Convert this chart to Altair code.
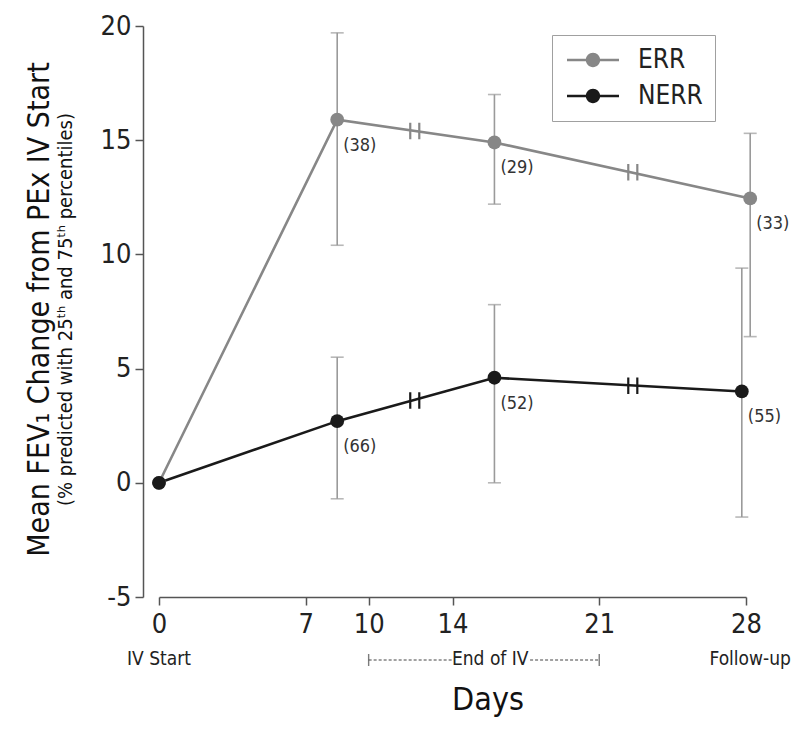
import altair as alt
import pandas as pd

# ---- data ----
series = ["ERR", "NERR"]
days_err = [0, 8.5, 16.0, 28.2]
days_nerr = [0, 8.5, 16.0, 27.8]
mean_err = [0, 15.9, 14.9, 12.45]
mean_nerr = [0, 2.7, 4.6, 4.0]
p25_err = [None, 10.4, 12.2, 6.4]
p75_err = [None, 19.7, 17.0, 15.3]
p25_nerr = [None, -0.7, 0.0, -1.5]
p75_nerr = [None, 5.5, 7.8, 9.4]
n_err = ["", "(38)", "(29)", "(33)"]
n_nerr = ["", "(66)", "(52)", "(55)"]

break_days = [12.2, 22.6]
break_err = [15.4, 13.6]
break_nerr = [3.6, 4.25]

x_ticks = [0, 7, 10, 14, 21, 28]
y_ticks = [-5, 0, 5, 10, 15, 20]
phase_days = [0, 15.8, 28.2]
phase_labels = ["IV Start", "End of IV", "Follow-up"]
bracket_from = [10, 17.7]
bracket_to = [14.0, 21]
bracket_caps = [10, 21]

FONT = "Liberation Sans Narrow, Arial Narrow, DejaVu Sans Condensed, sans-serif"
W, H = 587, 571

rows = []
for d, m, lo, hi, n in zip(days_err, mean_err, p25_err, p75_err, n_err):
    rows.append(dict(series="ERR", day=d, mean=m, lo=lo, hi=hi, n=n))
for d, m, lo, hi, n in zip(days_nerr, mean_nerr, p25_nerr, p75_nerr, n_nerr):
    rows.append(dict(series="NERR", day=d, mean=m, lo=lo, hi=hi, n=n))
df = pd.DataFrame(rows)
err_df = df.dropna(subset=["lo"])

brk = pd.DataFrame(
    [dict(series="ERR", day=d, v=v) for d, v in zip(break_days, break_err)]
    + [dict(series="NERR", day=d, v=v) for d, v in zip(break_days, break_nerr)]
)

xs = alt.Scale(domain=[0, 28], nice=False)
ys = alt.Scale(domain=[-5, 20], nice=False)
cs = alt.Scale(domain=series, range=["#878787", "#1a1a1a"])

legend_shape = ("M-2,-0.1H2V0.1H-2Z"
                "M-0.55,0A0.55,0.55 0 1,1 0.55,0A0.55,0.55 0 1,1 -0.55,0Z")

legend = alt.Legend(
    title=None, orient="none", legendX=393, legendY=9,
    symbolType=legend_shape, symbolSize=676, symbolStrokeWidth=0,
    symbolOpacity=1,
    symbolOffset=16, labelOffset=32, labelFontSize=26, labelFont=FONT,
    labelColor="#222", rowPadding=10, padding=12,
    strokeColor="#a0a0a0", fillColor="white")
color_enc = alt.Color("series:N", scale=cs, legend=legend)

x_enc = alt.X("day:Q", scale=xs, title=None,
              axis=alt.Axis(values=x_ticks, labelExpr="datum.value + ''",
                            grid=False, labelFlush=False, labelPadding=6))
y_enc = alt.Y("mean:Q", scale=ys, title=None,
              axis=alt.Axis(values=y_ticks, labelExpr="datum.value + ''",
                            grid=False, offset=16, labelFlush=False,
                            labelPadding=4))

base = alt.Chart(df)

err_rule = alt.Chart(err_df).mark_rule(color="#9a9a9a", strokeWidth=1.6).encode(
    x=alt.X("day:Q", scale=xs), y=alt.Y("lo:Q", scale=ys), y2="hi:Q")
cap_lo = alt.Chart(err_df).mark_tick(color="#9a9a9a", orient="horizontal",
                                     size=13, thickness=1.6).encode(
    x=alt.X("day:Q", scale=xs), y=alt.Y("lo:Q", scale=ys))
cap_hi = alt.Chart(err_df).mark_tick(color="#9a9a9a", orient="horizontal",
                                     size=13, thickness=1.6).encode(
    x=alt.X("day:Q", scale=xs), y=alt.Y("hi:Q", scale=ys))

lines = base.mark_line(strokeWidth=2.6).encode(
    x=x_enc, y=y_enc, color=color_enc)

breaks = alt.Chart(brk).mark_point(
    shape="M-0.55,-1V1M0.55,-1V1", size=270, filled=False,
    strokeWidth=2.2, opacity=1).encode(
    x=alt.X("day:Q", scale=xs), y=alt.Y("v:Q", scale=ys), color=color_enc)

points = base.mark_point(filled=True, size=190, opacity=1).encode(
    x=alt.X("day:Q", scale=xs), y=alt.Y("mean:Q", scale=ys), color=color_enc)

counts = base.mark_text(align="left", baseline="middle", dx=6, dy=26,
                        fontSize=18, font=FONT, color="#333").encode(
    x=alt.X("day:Q", scale=xs), y=alt.Y("mean:Q", scale=ys), text="n:N")

one = pd.DataFrame({"t": [0]})
ytitle = alt.Chart(one).mark_text(
    text="Mean FEV\u2081 Change from PEx IV Start", angle=270, fontSize=30,
    font=FONT, color="#111", baseline="middle", align="center").encode(
    x=alt.value(-119), y=alt.value(H / 2 - 2))
ysub = alt.Chart(one).mark_text(
    text="(% predicted with 25\u1d57\u02b0 and 75\u1d57\u02b0 percentiles)",
    angle=270, fontSize=20, font=FONT, color="#111",
    baseline="middle", align="center").encode(
    x=alt.value(-93), y=alt.value(H / 2 - 2))
xtitle = alt.Chart(one).mark_text(
    text="Days", fontSize=32, font=FONT, color="#111",
    baseline="middle", align="center").encode(
    x=alt.value(329), y=alt.value(H + 103))

phase = alt.Chart(pd.DataFrame({"day": phase_days, "lab": phase_labels})).mark_text(
    fontSize=19, font=FONT, color="#222", baseline="middle", align="center").encode(
    x=alt.X("day:Q", scale=xs), y=alt.value(H + 62), text="lab:N")
bracket = alt.Chart(pd.DataFrame({"a": bracket_from, "b": bracket_to})).mark_rule(
    color="#444", strokeWidth=1.2, strokeDash=[3, 2]).encode(
    x=alt.X("a:Q", scale=xs), x2="b:Q", y=alt.value(H + 63))
bcaps = alt.Chart(pd.DataFrame({"day": bracket_caps})).mark_tick(
    color="#444", orient="vertical", size=12, thickness=1.4).encode(
    x=alt.X("day:Q", scale=xs), y=alt.value(H + 63))

chart = alt.layer(
    err_rule, cap_lo, cap_hi, lines, breaks, points, counts,
    ytitle, ysub, xtitle, phase, bracket, bcaps,
).properties(
    width=W, height=H,
    autosize=alt.AutoSizeParams(type="none"),
    padding={"left": 151, "top": 18, "right": 46, "bottom": 130},
).configure(
    font=FONT,
    view=alt.ViewConfig(stroke=None),
    axis=alt.AxisConfig(
        domainColor="#555", domainWidth=1.5, tickColor="#555", tickWidth=1.5,
        tickSize=8, labelFontSize=27, labelFont=FONT, labelColor="#222"),
)

chart.save("out.html", embed_options={"renderer": "svg", "actions": False})
